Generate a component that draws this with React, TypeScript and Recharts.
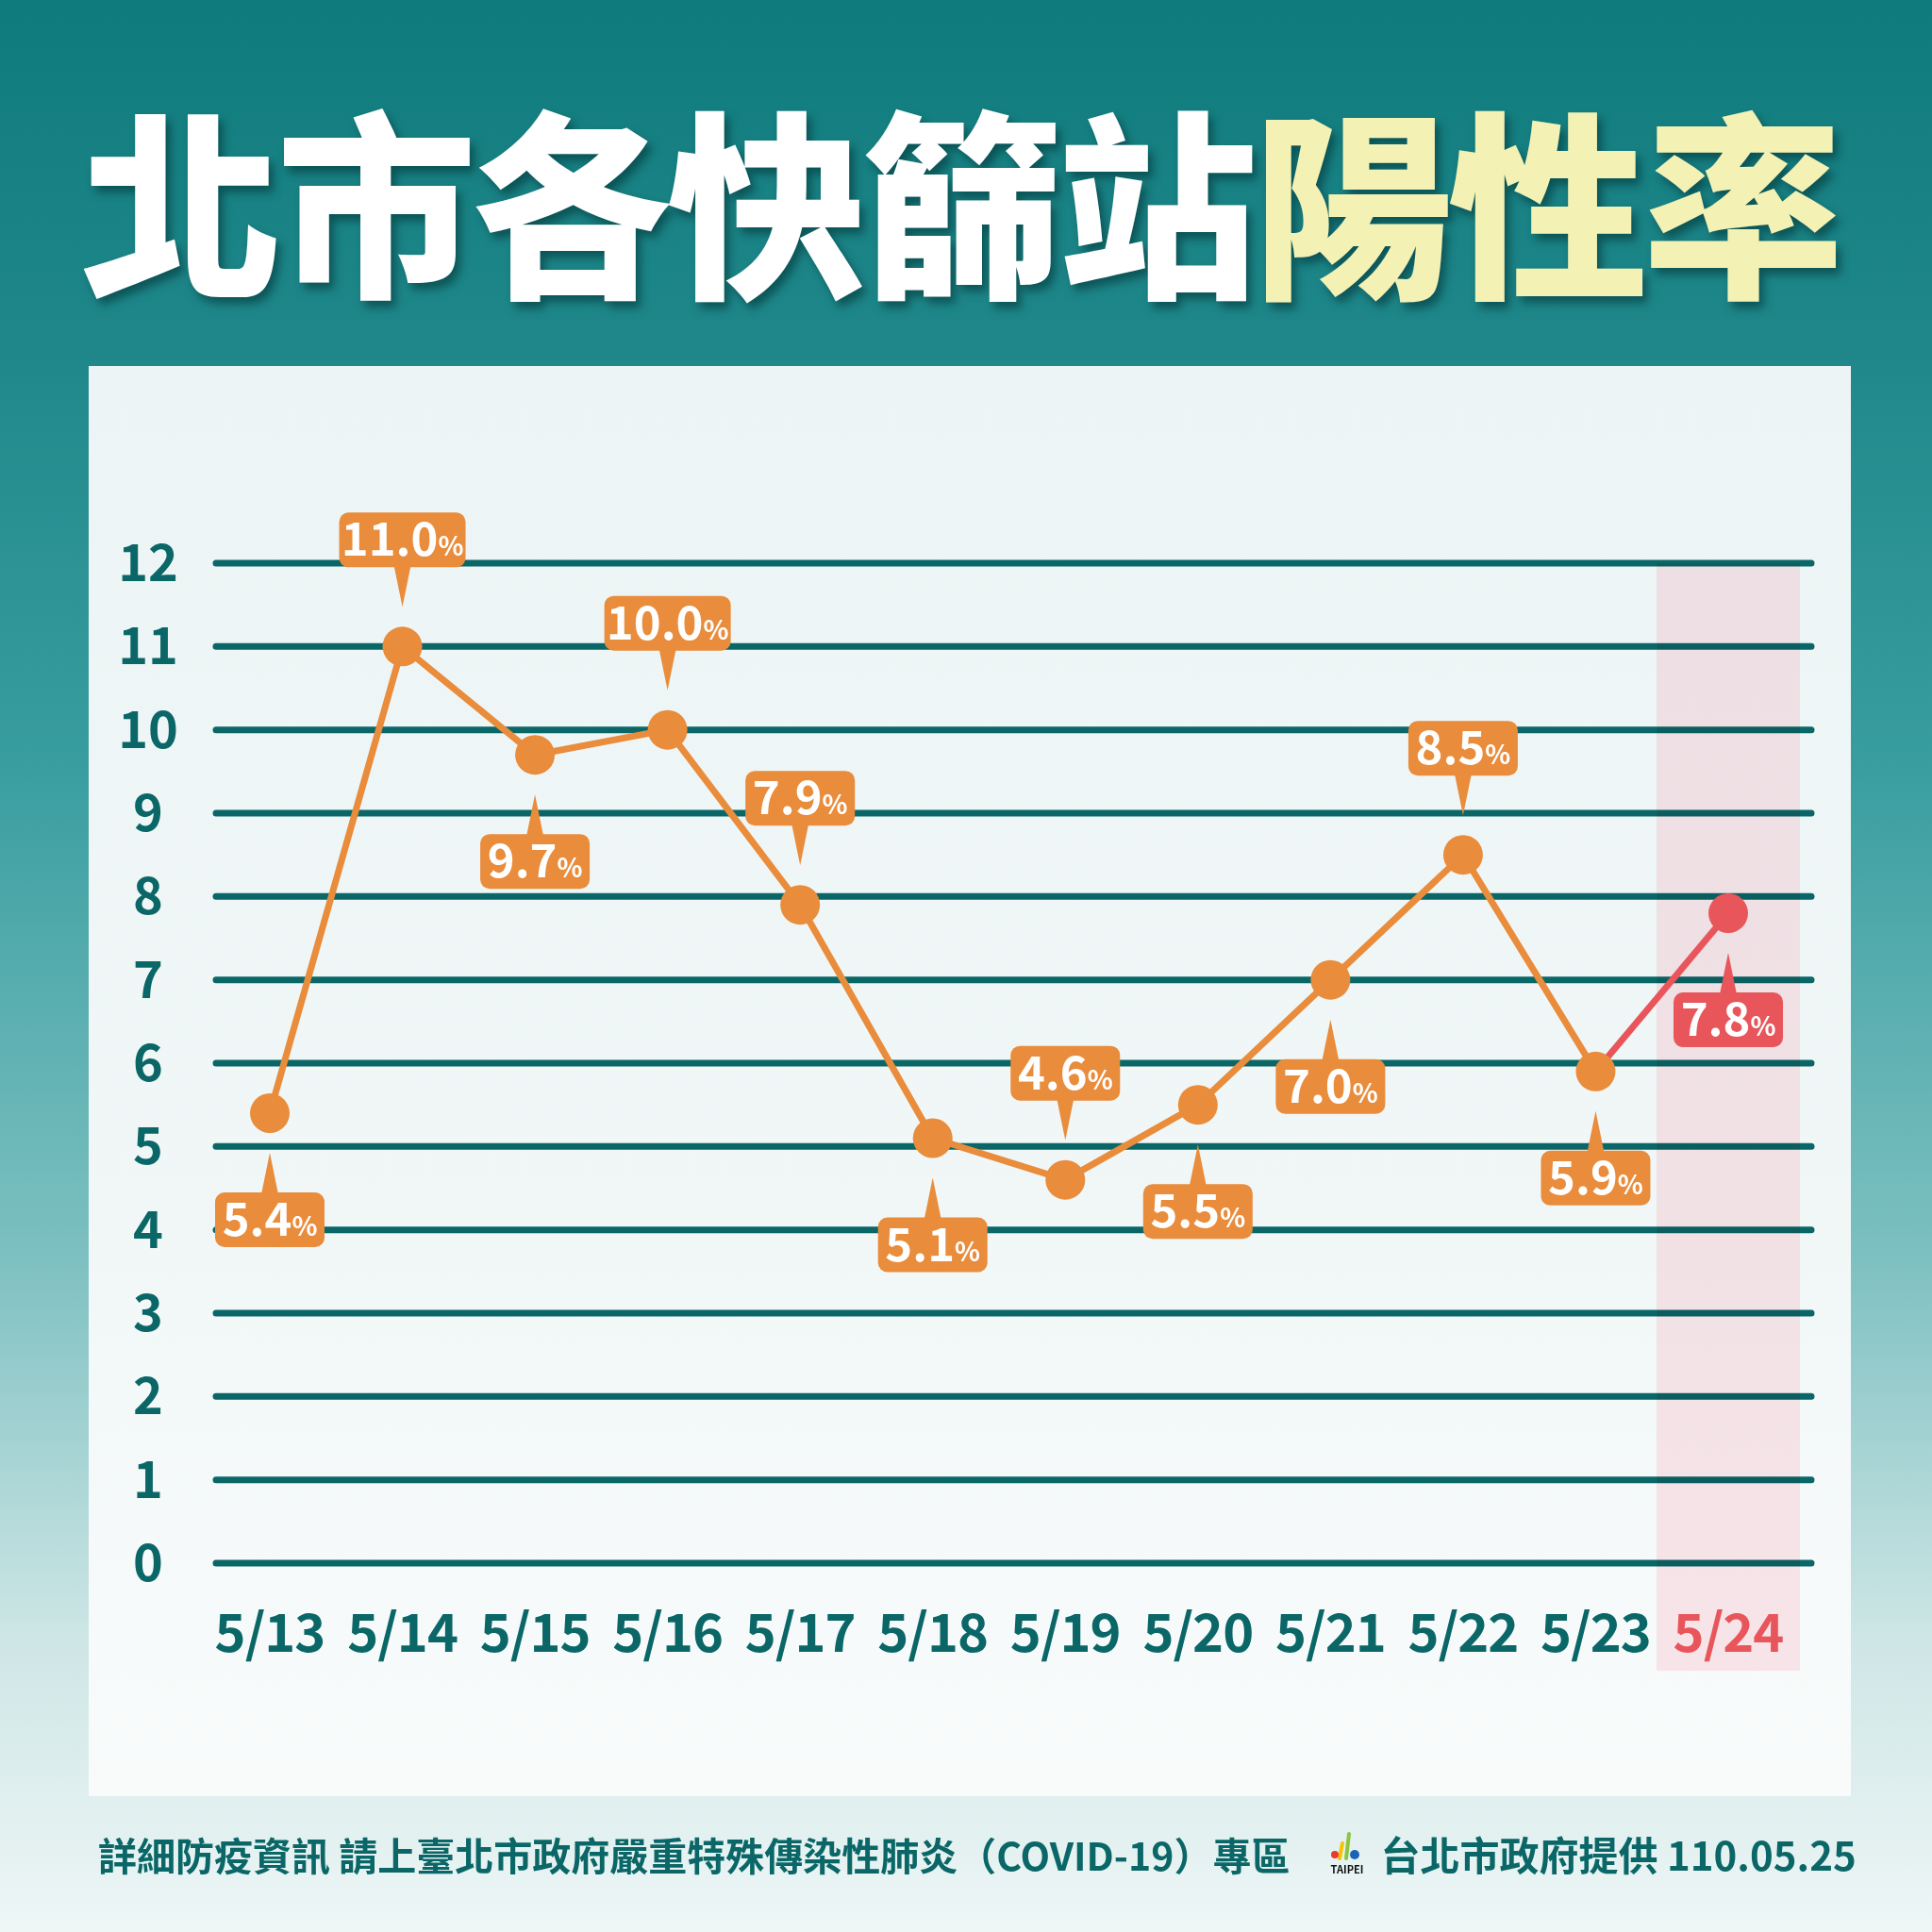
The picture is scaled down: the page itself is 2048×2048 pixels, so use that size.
import React from 'react';
import { LineChart, Line, XAxis, YAxis, CartesianGrid, ReferenceLine, LabelList } from 'recharts';

const dates = ['5/13', '5/14', '5/15', '5/16', '5/17', '5/18', '5/19', '5/20', '5/21', '5/22', '5/23', '5/24'];
const rates = [5.4, 11.0, 9.7, 10.0, 7.9, 5.1, 4.6, 5.5, 7.0, 8.5, 5.9, 7.8];
// which side of the point each callout sits on
const labelSide = ['down', 'up', 'down', 'up', 'up', 'down', 'up', 'down', 'down', 'up', 'down', 'down'];
const yTicks = [0, 1, 2, 3, 4, 5, 6, 7, 8, 9, 10, 11, 12];

const TEAL = '#0b6767';
const ORANGE = '#e98c3b';
const RED = '#e8555a';
// multiplied onto the panel background -> soft pink, grid lines stay teal
const PINK = '#ffe9ed';
const FONT = '"Noto Sans CJK TC", "Noto Sans", sans-serif';

const lastIdx = rates.length - 1;
const highlightDate = dates[lastIdx];

const data = dates.map((d, i) => ({
  date: d,
  main: i < lastIdx ? rates[i] : null,
  latest: i >= lastIdx - 1 ? rates[i] : null,
}));

function Callout(props: any) {
  const { x, y, value, index, color, onlyIndex } = props;
  if (value == null) return null;
  if (onlyIndex != null && index !== onlyIndex) return null;
  const text = Number(value).toFixed(1);
  const w = text.length >= 4 ? 134 : 116;
  const h = 58;
  const gap = 84;
  const up = labelSide[index] === 'up';
  const boxY = up ? y - gap - h : y + gap;
  const baseY = up ? boxY + h - 2 : boxY + 2;
  const tipY = up ? y - 42 : y + 42;
  return (
    <g>
      <polygon points={`${x - 9},${baseY} ${x + 9},${baseY} ${x},${tipY}`} fill={color} />
      <rect x={x - w / 2} y={boxY} width={w} height={h} rx={10} fill={color} />
      <text
        x={x}
        y={boxY + h / 2 + 17}
        textAnchor="middle"
        fill="#ffffff"
        fontFamily={FONT}
        fontWeight={700}
        fontSize={49}
      >
        {text}
        <tspan fontSize={28}>%</tspan>
      </text>
    </g>
  );
}

function DateTick(props: any) {
  const { x, y, payload } = props;
  return (
    <text
      x={x}
      y={y + 92}
      textAnchor="middle"
      fill={payload.value === highlightDate ? RED : TEAL}
      fontFamily={FONT}
      fontWeight={700}
      fontSize={56}
      letterSpacing={-1}
    >
      {payload.value}
    </text>
  );
}

function ValueTick(props: any) {
  const { y, payload } = props;
  return (
    <text x={157} y={y + 19} textAnchor="middle" fill={TEAL} fontFamily={FONT} fontWeight={700} fontSize={54}>
      {payload.value}
    </text>
  );
}

function TaipeiLogo() {
  return (
    <svg width={50} height={50} viewBox="0 0 50 50" style={{ display: 'block' }}>
      <path d="M27 4 L24 30" stroke="#8cc63f" strokeWidth={4} strokeLinecap="round" />
      <path d="M20 14 L17 30" stroke="#f5c400" strokeWidth={4} strokeLinecap="round" />
      <circle cx={12} cy={26} r={4} fill="#e63c2f" />
      <circle cx={33} cy={26} r={5} fill="#1d63b5" />
      <text x={25} y={46} textAnchor="middle" fontFamily={FONT} fontWeight={700} fontSize={11} fill="#111">
        TAIPEI
      </text>
    </svg>
  );
}

export default function App() {
  return (
    <div
      style={{
        position: 'absolute',
        left: 0,
        top: 0,
        width: 2048,
        height: 2048,
        overflow: 'hidden',
        fontFamily: FONT,
        background:
          'linear-gradient(180deg, #0f7b7d 0%, #1f878a 18%, #3a9ea0 40%, #7dc0c1 65%, #cfe6e6 85%, #eef6f6 100%)',
      }}
    >
      <div
        style={{
          position: 'absolute',
          left: 86,
          top: 102,
          fontSize: 212,
          lineHeight: 1,
          fontWeight: 900,
          letterSpacing: -5,
          whiteSpace: 'nowrap',
          textShadow: '5px 7px 10px rgba(0,45,48,0.55)',
        }}
      >
        <span style={{ color: '#ffffff' }}>北市各快篩站</span>
        <span style={{ color: '#f3f1b4' }}>陽性率</span>
      </div>

      <div
        style={{
          position: 'absolute',
          left: 94,
          top: 388,
          width: 1868,
          height: 1516,
          background: 'linear-gradient(180deg, #ecf4f5 0%, #f1f7f7 60%, #f9fbfb 100%)',
        }}
      />

      <div style={{ position: 'absolute', left: 0, top: 0 }}>
        <LineChart width={2048} height={2048} data={data} margin={{ top: 597, right: 128, bottom: 291, left: 0 }}>
          <CartesianGrid vertical={false} stroke={TEAL} strokeWidth={7} strokeLinecap="round" />
          <ReferenceLine
            segment={[
              { x: highlightDate, y: -1.29 },
              { x: highlightDate, y: 12 },
            ]}
            stroke={PINK}
            strokeWidth={152}
            ifOverflow="visible"
            style={{ mixBlendMode: 'multiply' }}
          />
          <XAxis
            dataKey="date"
            padding={{ left: 57, right: 88 }}
            axisLine={false}
            tickLine={false}
            tickSize={0}
            height={100}
            interval={0}
            tick={<DateTick />}
          />
          <YAxis
            type="number"
            domain={[0, 12]}
            ticks={yTicks}
            interval={0}
            width={229}
            axisLine={false}
            tickLine={false}
            tick={<ValueTick />}
          />
          <Line
            dataKey="latest"
            stroke={RED}
            strokeWidth={7}
            isAnimationActive={false}
            connectNulls={false}
            dot={(p: any) =>
              p.index === lastIdx ? (
                <circle key={`r-${p.index}`} cx={p.cx} cy={p.cy} r={21} fill={RED} />
              ) : (
                <g key={`r-${p.index}`} />
              )
            }
            activeDot={false}
          >
            <LabelList dataKey="latest" content={(p: any) => <Callout {...p} color={RED} onlyIndex={lastIdx} />} />
          </Line>
          <Line
            dataKey="main"
            stroke={ORANGE}
            strokeWidth={7}
            isAnimationActive={false}
            dot={{ r: 21, fill: ORANGE, stroke: 'none' }}
            activeDot={false}
          >
            <LabelList dataKey="main" content={(p: any) => <Callout {...p} color={ORANGE} />} />
          </Line>
        </LineChart>
      </div>

      <div
        style={{
          position: 'absolute',
          left: 104,
          top: 1940,
          display: 'flex',
          alignItems: 'center',
          color: TEAL,
          fontWeight: 700,
          fontSize: 41,
          whiteSpace: 'nowrap',
          lineHeight: '50px',
        }}
      >
        <span>詳細防疫資訊 請上臺北市政府嚴重特殊傳染性肺炎（COVID-19）專區</span>
        <span style={{ marginLeft: 36, marginRight: 10 }}>
          <TaipeiLogo />
        </span>
        <span style={{ fontSize: 42 }}>台北市政府提供 110.05.25</span>
      </div>
    </div>
  );
}
